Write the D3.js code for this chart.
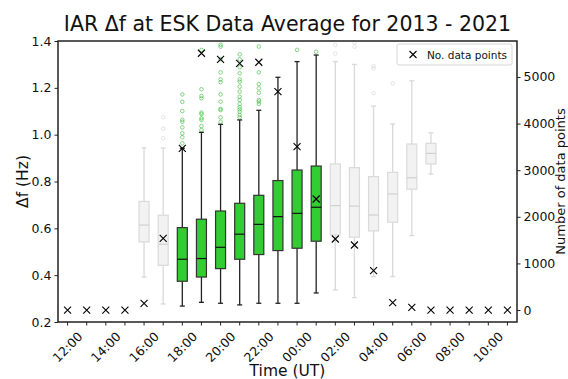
<!DOCTYPE html>
<html>
<head>
<meta charset="utf-8">
<script src="https://cdn.jsdelivr.net/npm/d3@7"></script>
<style>
    body { margin: 0; background: white; }
    text { font-family: "DejaVu Sans", sans-serif; fill: #111; }
</style>
</head>
<body>
<div id="content"></div>
<script>
// hourly bins, starting at noon
const hours = ["12:00", "13:00", "14:00", "15:00", "16:00", "17:00", "18:00", "19:00",
    "20:00", "21:00", "22:00", "23:00", "00:00", "01:00", "02:00", "03:00",
    "04:00", "05:00", "06:00", "07:00", "08:00", "09:00", "10:00", "11:00"]

// labelled ticks
const tickLabels = ["12:00", "14:00", "16:00", "18:00", "20:00", "22:00",
    "00:00", "02:00", "04:00", "06:00", "08:00", "10:00"]

// box statistics in Hz (null = no box)
const whiskerLow = [null, null, null, null, 0.392, 0.277, 0.268, 0.284, 0.280, 0.273, 0.280, 0.280,
    0.280, 0.324, 0.337, 0.304, 0.394, 0.394, 0.569, 0.832, null, null, null, null]
const q1 = [null, null, null, null, 0.542, 0.442, 0.374, 0.392, 0.428, 0.468, 0.488, 0.505,
    0.515, 0.545, 0.572, 0.562, 0.589, 0.626, 0.767, 0.875, null, null, null, null]
const medians = [null, null, null, null, 0.614, 0.532, 0.468, 0.471, 0.519, 0.575, 0.617, 0.650,
    0.664, 0.690, 0.697, 0.695, 0.657, 0.747, 0.816, 0.920, null, null, null, null]
const q3 = [null, null, null, null, 0.715, 0.656, 0.603, 0.639, 0.674, 0.707, 0.741, 0.804,
    0.849, 0.866, 0.875, 0.859, 0.821, 0.839, 0.960, 0.963, null, null, null, null]
const whiskerHigh = [null, null, null, null, 0.944, 0.943, 0.942, 1.010, 1.044, 1.063, 1.104, 1.245,
    1.312, 1.340, 1.312, 1.300, 1.122, 1.046, 1.230, 1.008, null, null, null, null]

// outliers per hour
const fliers = [[], [], [], [], [],
    [0.985, 1.026, 1.074],
    [0.963, 0.989, 1.006, 1.031, 1.055, 1.063, 1.101, 1.140, 1.172],
    [1.020, 1.037, 1.063, 1.070, 1.088, 1.094, 1.155, 1.165, 1.194, 1.362],
    [1.055, 1.074, 1.105, 1.110, 1.141, 1.172, 1.224, 1.236, 1.266, 1.322, 1.376, 1.384],
    [1.074, 1.084, 1.098, 1.108, 1.117, 1.131, 1.148, 1.162, 1.184, 1.205, 1.226, 1.236, 1.262, 1.288, 1.322, 1.343],
    [1.131, 1.141, 1.148, 1.179, 1.198, 1.216, 1.266, 1.376],
    [],
    [1.362],
    [1.354],
    [1.347, 1.383],
    [1.376, 1.393],
    [1.177, 1.283, 1.293],
    [1.219],
    [], [], [], [], [], []]

// hours with enough data are drawn green
const highlighted = [false, false, false, false, false, false, true, true, true, true, true, true,
    true, true, false, false, false, false, false, false, false, false, false, false]

// number of data points per hour
const counts = [0, 0, 0, 0, 144, 1539, 3470, 5509, 5380, 5294, 5316, 4685,
    3504, 2382, 1524, 1395, 843, 157, 58, 0, 0, 0, 0, 0]

const width = 568, height = 379
const mLeft = 58, mRight = 517, mTop = 41, mBottom = 322

const svg = d3.select('#content')
    .append('svg')
    .attr('width', width)
    .attr('height', height)

const x = d3.scaleBand()
    .domain(hours)
    .range([mLeft, mRight])

const y = d3.scaleLinear()
    .domain([0.2, 1.4])
    .range([mBottom, mTop])

// count axis on the right
const y2 = d3.scaleLinear()
    .domain([-257, 5772])
    .range([mBottom, mTop])

const cx = h => x(h) + x.bandwidth() / 2
const boxW = 10

// build rows for the boxes
const boxes = hours.map((h, i) => ({
    hour: h, lo: whiskerLow[i], q1: q1[i], med: medians[i], q3: q3[i], hi: whiskerHigh[i],
    fliers: fliers[i], green: highlighted[i]
})).filter(d => d.med !== null)

const g = svg.selectAll('g.box')
    .data(boxes)
    .join('g')
    .attr('class', 'box')
    .attr('transform', d => `translate(${cx(d.hour)},0)`)

const lineCol = d => d.green ? '#222' : '#d9d9d9'

// whiskers
g.append('line')
    .attr('y1', d => y(d.lo)).attr('y2', d => y(d.q1))
    .attr('stroke', lineCol).attr('stroke-width', 1.3)
g.append('line')
    .attr('y1', d => y(d.q3)).attr('y2', d => y(d.hi))
    .attr('stroke', lineCol).attr('stroke-width', 1.3)

// caps
g.selectAll('line.cap')
    .data(d => [d.lo, d.hi].map(v => ({ v: v, green: d.green })))
    .join('line')
    .attr('class', 'cap')
    .attr('x1', -boxW / 4).attr('x2', boxW / 4)
    .attr('y1', d => y(d.v)).attr('y2', d => y(d.v))
    .attr('stroke', lineCol).attr('stroke-width', 1.3)

// box body
g.append('rect')
    .attr('x', -boxW / 2)
    .attr('width', boxW)
    .attr('y', d => y(d.q3))
    .attr('height', d => y(d.q1) - y(d.q3))
    .attr('fill', d => d.green ? '#32cd32' : '#f2f2f2')
    .attr('stroke', d => d.green ? '#333' : '#dadada')
    .attr('stroke-width', 1.2)

// median
g.append('line')
    .attr('x1', -boxW / 2).attr('x2', boxW / 2)
    .attr('y1', d => y(d.med)).attr('y2', d => y(d.med))
    .attr('stroke', d => d.green ? '#111' : '#d0d0d0')
    .attr('stroke-width', 1.2)

// outliers
g.selectAll('circle')
    .data(d => d.fliers.map(v => ({ v: v, green: d.green })))
    .join('circle')
    .attr('cy', d => y(d.v))
    .attr('r', 1.8)
    .attr('fill', 'none')
    .attr('stroke', d => d.green ? '#2eb82e' : '#c8c8c8')
    .attr('stroke-opacity', d => d.green ? 0.7 : 0.6)
    .attr('stroke-width', 0.8)

// count markers
const cross = 'M-3.5,-3.5L3.5,3.5M-3.5,3.5L3.5,-3.5'
svg.selectAll('path.count')
    .data(hours.map((h, i) => ({ hour: h, n: counts[i] })))
    .join('path')
    .attr('class', 'count')
    .attr('d', cross)
    .attr('transform', d => `translate(${cx(d.hour)},${y2(d.n)})`)
    .attr('stroke', '#000')
    .attr('stroke-width', 1.1)
    .attr('fill', 'none')

// axes
const leftAxis = svg.append('g')
    .attr('transform', `translate(${mLeft},0)`)
    .call(d3.axisLeft(y).tickValues(d3.range(0.2, 1.41, 0.2)).tickFormat(d3.format('.1f')).tickSize(3.5).tickPadding(3))
const rightAxis = svg.append('g')
    .attr('transform', `translate(${mRight},0)`)
    .call(d3.axisRight(y2).tickValues(d3.range(0, 5001, 1000)).tickFormat(d3.format('d')).tickSize(3.5).tickPadding(3))
const bottomAxis = svg.append('g')
    .attr('transform', `translate(0,${mBottom})`)
    .call(d3.axisBottom(x).tickSize(3.5).tickFormat(''))

;[leftAxis, rightAxis, bottomAxis].forEach(a => {
    a.select('.domain').remove()
    a.selectAll('text').attr('font-size', 12.5).attr('font-family', '"DejaVu Sans", sans-serif').attr('fill', '#111')
    a.selectAll('line').attr('stroke', '#222')
})

// rotated hour labels
svg.selectAll('text.hour')
    .data(tickLabels)
    .join('text')
    .attr('class', 'hour')
    .attr('transform', d => `translate(${cx(d)},${mBottom + 25}) rotate(-45)`)
    .attr('text-anchor', 'middle')
    .attr('dominant-baseline', 'central')
    .attr('font-size', 12.5)
    .text(d => d)

// frame
svg.append('rect')
    .attr('x', mLeft).attr('y', mTop)
    .attr('width', mRight - mLeft).attr('height', mBottom - mTop)
    .attr('fill', 'none')
    .attr('stroke', '#222')
    .attr('stroke-width', 1.5)

// legend
const legend = svg.append('g')
legend.append('rect')
    .attr('x', 397).attr('y', 44).attr('width', 115).attr('height', 21).attr('rx', 2)
    .attr('fill', 'white').attr('fill-opacity', 0.8)
    .attr('stroke', '#d6d6d6')
legend.append('path')
    .attr('d', cross)
    .attr('transform', 'translate(413,54.5)')
    .attr('stroke', '#000').attr('stroke-width', 1.1)
legend.append('text')
    .attr('x', 427).attr('y', 58.5)
    .attr('font-size', 10.5)
    .text('No. data points')

// titles
svg.append('text')
    .attr('x', (mLeft + mRight) / 2).attr('y', 31)
    .attr('text-anchor', 'middle')
    .attr('font-size', 20.5)
    .text('IAR Δf at ESK Data Average for 2013 - 2021')

svg.append('text')
    .attr('x', (mLeft + mRight) / 2).attr('y', 376)
    .attr('text-anchor', 'middle')
    .attr('font-size', 15.5)
    .text('Time (UT)')

svg.append('text')
    .attr('transform', `translate(28,${(mTop + mBottom) / 2}) rotate(-90)`)
    .attr('text-anchor', 'middle')
    .attr('font-size', 15.5)
    .text('Δf (Hz)')

svg.append('text')
    .attr('transform', `translate(565,${(mTop + mBottom) / 2}) rotate(-90)`)
    .attr('text-anchor', 'middle')
    .attr('font-size', 13)
    .text('Number of data points')
</script>
</body>
</html>
